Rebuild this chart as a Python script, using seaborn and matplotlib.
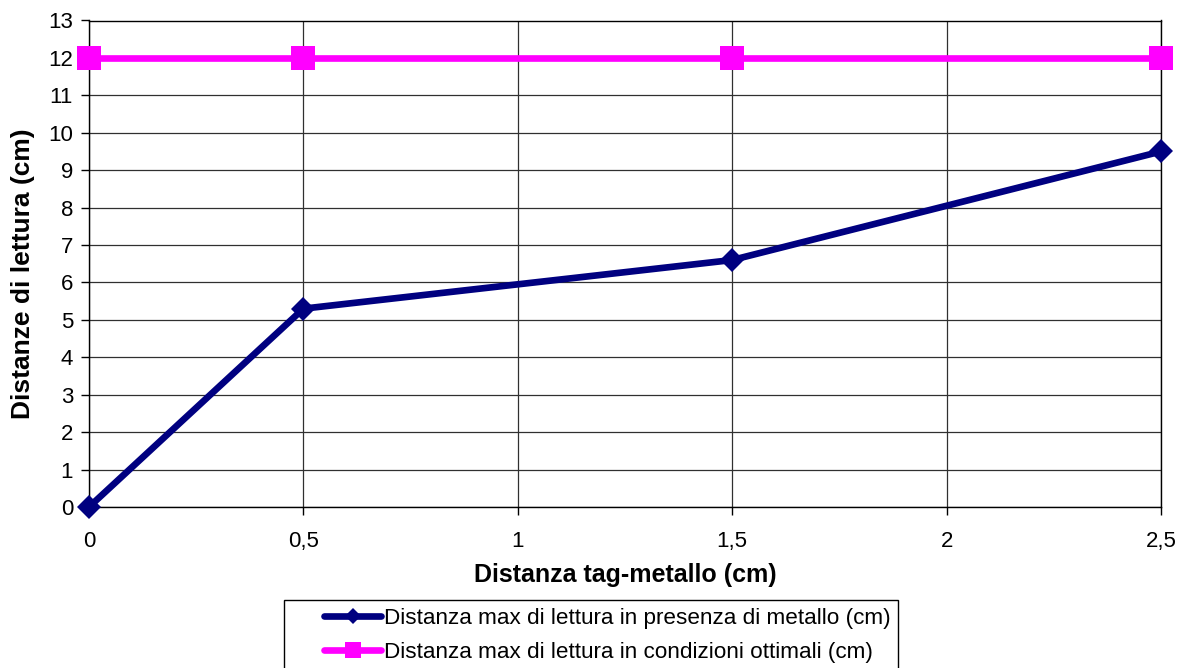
import matplotlib
matplotlib.use("Agg")
import matplotlib.pyplot as plt
import seaborn as sns
import pandas as pd
from matplotlib.lines import Line2D
from matplotlib.patches import Rectangle

# Distance between tag and metal plate (cm)
tag_metal = [0, 0.5, 1.5, 2.5]
# Max read distance with metal nearby (cm)
read_with_metal = [0, 5.3, 6.6, 9.5]
# Max read distance in optimal conditions (cm)
read_optimal = [12, 12, 12, 12]

series_names = [
    "Distanza max di lettura in presenza di metallo (cm)",
    "Distanza max di lettura in condizioni ottimali (cm)",
]
x_ticks = [0, 0.5, 1, 1.5, 2, 2.5]
x_tick_labels = ["0", "0,5", "1", "1,5", "2", "2,5"]
y_ticks = list(range(0, 14))

df = pd.DataFrame({
    "x": tag_metal * 2,
    "y": read_with_metal + read_optimal,
    "serie": [series_names[0]] * len(tag_metal) + [series_names[1]] * len(tag_metal),
})

sns.set_theme(style="white")
plt.rcParams["font.family"] = ["Liberation Sans", "DejaVu Sans"]
for key in ("text.color", "axes.labelcolor", "xtick.color", "ytick.color"):
    plt.rcParams[key] = "#000000"

W, H = 1179, 668
fig = plt.figure(figsize=(W / 100, H / 100), dpi=100)
ax = fig.add_axes([89 / W, 1 - 507 / H, (1161 - 89) / W, (507 - 20.5) / H])

palette = {series_names[0]: "#000080", series_names[1]: "#FF00FF"}
markers = {series_names[0]: "D", series_names[1]: "s"}

sns.lineplot(data=df, x="x", y="y", hue="serie", style="serie",
             palette=palette, markers=markers, dashes=False,
             linewidth=4.8, markersize=12, markeredgewidth=0,
             ax=ax, legend=False, zorder=3)
for line in ax.lines:
    line.set_clip_on(False)
    if line.get_marker() == "s":
        line.set_markersize(17)

ax.set_xlim(0, 2.5)
ax.set_ylim(0, 13)
ax.set_xticks(x_ticks)
ax.set_xticklabels(x_tick_labels)
ax.set_yticks(y_ticks)
ax.tick_params(axis="both", labelsize=16, length=5.5, width=1, color="#000000",
               direction="out", bottom=True, left=True)
ax.tick_params(axis="x", pad=12)
ax.tick_params(axis="y", pad=6)
ax.grid(True, color="#303030", linewidth=0.9)
ax.set_axisbelow(True)
for sp in ax.spines.values():
    sp.set_color("#000000")
    sp.set_linewidth(1.0)
    sp.set_visible(True)

ax.set_xlabel("Distanza tag-metallo (cm)", fontsize=18, fontweight="bold", labelpad=8)
ax.set_ylabel("Distanze di lettura (cm)", fontsize=19, fontweight="bold")
ax.yaxis.set_label_coords((35 - 89) / (1161 - 89), (507 - 274) / (507 - 20.5))

# Legend frame, running off the bottom edge of the figure
fig.patches.append(Rectangle((284 / W, -0.05), (898 - 284) / W, 0.05 + (668 - 600) / H,
                             transform=fig.transFigure, facecolor="white",
                             edgecolor="#000000", linewidth=1.0, zorder=1))

handles = [
    Line2D([], [], color="#000080", linewidth=4.8, marker="D", markersize=8.5, markeredgewidth=0),
    Line2D([], [], color="#FF00FF", linewidth=4.8, marker="s", markersize=11, markeredgewidth=0),
]
leg = fig.legend(handles, series_names, loc="upper left",
                 bbox_to_anchor=(324 / W, 1 - 608 / H),
                 fontsize=16.2, frameon=False,
                 handlelength=2.55, handletextpad=0.1, borderpad=0,
                 labelspacing=0.58, borderaxespad=0)
leg.set_zorder(2)

fig.savefig("out.png", dpi=100)
